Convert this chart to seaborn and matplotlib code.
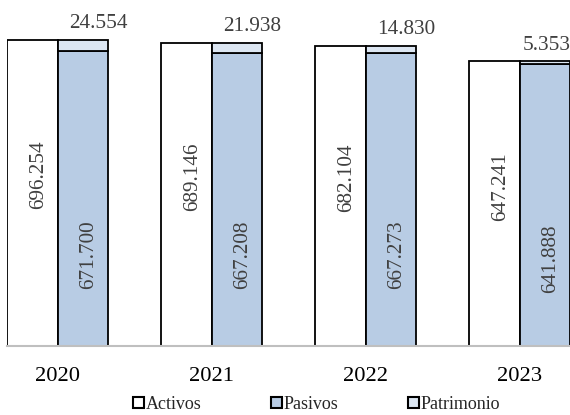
import numpy as np
import pandas as pd
import matplotlib
matplotlib.use("Agg")
import matplotlib.pyplot as plt
from matplotlib.patches import Patch
import seaborn as sns

years = ["2020", "2021", "2022", "2023"]
activos = [696.254, 689.146, 682.104, 647.241]
pasivos = [671.700, 667.208, 667.273, 641.888]
patrimonio = [24.554, 21.938, 14.830, 5.353]

def fmt(v):
    return f"{v:.3f}"

sns.set_theme(style="white")
plt.rcParams["font.family"] = ["Liberation Serif", "DejaVu Serif"]

c_act = "#ffffff"
c_pas = "#b8cce4"
c_pat = "#dce6f2"

fig = plt.figure(figsize=(5.7, 4.15), dpi=100)
ax = fig.add_axes([7 / 570, 69 / 415, 563 / 570, 346 / 415])

df = pd.DataFrame({
    "year": years * 2,
    "serie": ["Activos"] * 4 + ["Pasivos"] * 4,
    "valor": activos + pasivos,
})
sns.barplot(data=df, x="year", y="valor", hue="serie", order=years,
            hue_order=["Activos", "Pasivos"], palette=[c_act, c_pas],
            width=0.66, saturation=1, edgecolor="black", linewidth=1.3,
            errorbar=None, legend=False, ax=ax)

bw = 0.33
xs = np.arange(len(years))
ax.bar(xs + bw / 2, patrimonio, bottom=pasivos, width=bw, color=c_pat,
       edgecolor="black", linewidth=1.3)

ax.set_xlim(-50.5 / 154, 512.5 / 154)
ax.set_ylim(0, 787)
xr = 512.5 / 154

fs = 15.3
for i in range(len(years)):
    ax.text(i - bw / 2 + 0.04, activos[i] * 0.56, fmt(activos[i]), rotation=90,
            ha="center", va="center", fontsize=fs, color="#404040")
    ax.text(i + bw / 2 + 0.04, pasivos[i] * 0.31, fmt(pasivos[i]), rotation=90,
            ha="center", va="center", fontsize=fs, color="#404040")
    xt = min(i + bw / 2 + 0.1, xr - 0.15)
    ax.text(xt, pasivos[i] + patrimonio[i] + 37, fmt(patrimonio[i]),
            ha="center", va="center", fontsize=fs, color="#404040")

ax.set_xlabel("")
ax.set_ylabel("")
ax.set_yticks([])
ax.tick_params(axis="x", length=0, pad=15, labelsize=16.2, labelcolor="black")
for s in ["top", "left", "right"]:
    ax.spines[s].set_visible(False)
ax.spines["bottom"].set_color("#bfbfbf")
ax.spines["bottom"].set_linewidth(1.5)

handles = [Patch(facecolor=c, edgecolor="black", linewidth=1.5) for c in (c_act, c_pas, c_pat)]
fig.legend(handles, ["Activos", "Pasivos", "Patrimonio"], loc="center",
           bbox_to_anchor=(0.555, 0.025), ncol=3, frameon=False, fontsize=13,
           handlelength=0.6, handleheight=0.6, handletextpad=0.1,
           columnspacing=3.85, borderpad=0)

fig.savefig("out.png", dpi=100)
